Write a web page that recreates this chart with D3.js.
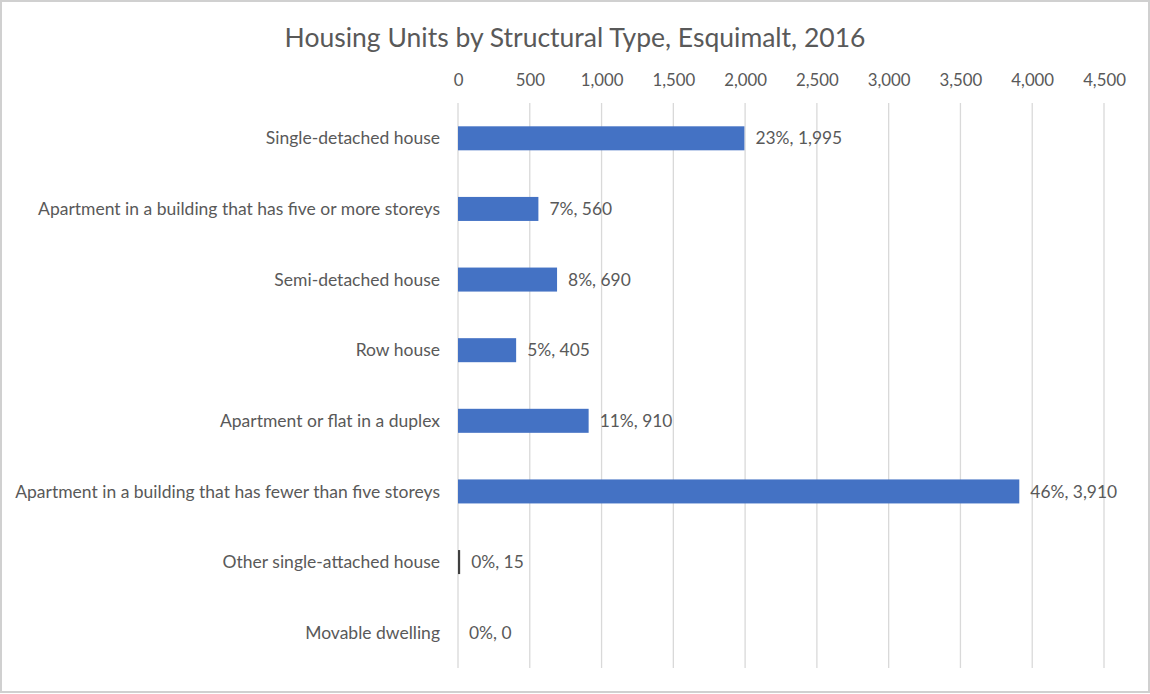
<!DOCTYPE html>
<html>
<head>
<meta charset="utf-8">
<script src="https://cdn.jsdelivr.net/npm/d3@7"></script>
<style>
  body { margin: 0; background: #fff; }
  svg text { font-family: Lato, "Open Sans", sans-serif; fill: #595959; }
</style>
</head>
<body>
<div id="viz"></div>
<script>
// chart values
var categories = [
    "Single-detached house",
    "Apartment in a building that has five or more storeys",
    "Semi-detached house",
    "Row house",
    "Apartment or flat in a duplex",
    "Apartment in a building that has fewer than five storeys",
    "Other single-attached house",
    "Movable dwelling"
];
var units = [1995, 560, 690, 405, 910, 3910, 15, 0];
var shares = [23, 7, 8, 5, 11, 46, 0, 0];
var ticks = [0, 500, 1000, 1500, 2000, 2500, 3000, 3500, 4000, 4500];

var width = 1150,
    height = 694;

var margin = {top: 103, right: 46, bottom: 26, left: 458};

var svg = d3.select("div#viz")
    .append("svg")
    .attr("width", width)
    .attr("height", height);

// outer frame
svg.append("rect")
    .attr("x", 1).attr("y", 1)
    .attr("width", width - 2).attr("height", height - 3)
    .attr("fill", "#fff")
    .attr("stroke", "#d0d0d0")
    .attr("stroke-width", 2);

var x = d3.scaleLinear()
    .domain([0, 4500])
    .range([margin.left, width - margin.right]);

var y = d3.scaleBand()
    .domain(categories)
    .range([margin.top, height - margin.bottom])
    .paddingInner(0.66)
    .paddingOuter(0.33);

// gridlines
svg.append("g")
    .selectAll("line")
    .data(ticks)
    .enter().append("line")
    .attr("x1", function(d) { return x(d); })
    .attr("x2", function(d) { return x(d); })
    .attr("y1", margin.top)
    .attr("y2", height - margin.bottom)
    .attr("stroke", "#d9d9d9")
    .attr("stroke-width", 1.3);

// top axis labels
var xAxis = d3.axisTop(x)
    .tickValues(ticks)
    .tickFormat(d3.format(","))
    .tickSize(0)
    .tickPadding(0);

var gx = svg.append("g")
    .attr("transform", "translate(0,86)")
    .call(xAxis);
gx.select(".domain").remove();
gx.selectAll("text")
    .attr("dy", 0)
    .style("font-size", "16.8px")
    .style("fill", "#595959");

// bars
svg.append("g")
    .selectAll("rect")
    .data(units)
    .enter().append("rect")
    .attr("x", x(0))
    .attr("y", function(d, i) { return y(categories[i]); })
    .attr("width", function(d) { return Math.max(x(d) - x(0), d > 0 ? 1.5 : 0); })
    .attr("height", y.bandwidth())
    .attr("fill", function(d) { return d < 100 ? "#404040" : "#4472C4"; });

// category labels
svg.append("g")
    .selectAll("text")
    .data(categories)
    .enter().append("text")
    .attr("x", x(0) - 18)
    .attr("y", function(d) { return y(d) + y.bandwidth() / 2; })
    .attr("dy", "0.35em")
    .attr("text-anchor", "end")
    .style("font-size", "17.5px")
    .text(function(d) { return d; });

// value labels
var fmt = d3.format(",");
svg.append("g")
    .selectAll("text")
    .data(units)
    .enter().append("text")
    .attr("x", function(d) { return x(d) + 11; })
    .attr("y", function(d, i) { return y(categories[i]) + y.bandwidth() / 2; })
    .attr("dy", "0.35em")
    .style("font-size", "17.4px")
    .text(function(d, i) { return shares[i] + "%, " + fmt(d); });

// title
svg.append("text")
    .attr("x", 575)
    .attr("y", 47)
    .attr("text-anchor", "middle")
    .style("font-size", "26.5px")
    .text("Housing Units by Structural Type, Esquimalt, 2016");
</script>
</body>
</html>
